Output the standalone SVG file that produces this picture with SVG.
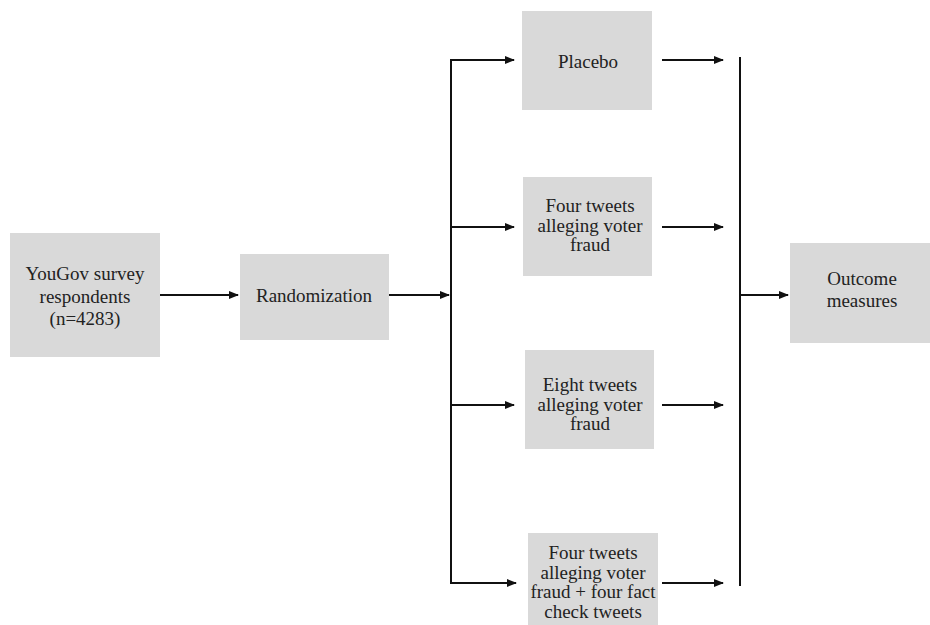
<svg xmlns="http://www.w3.org/2000/svg" width="930" height="625" viewBox="0 0 930 625">
<defs>
<marker id="ah" markerWidth="10" markerHeight="8" refX="9" refY="4" orient="auto" markerUnits="userSpaceOnUse">
<path d="M0,0 L10,4 L0,8 Z" fill="#111"/>
</marker>
<style>
.box{fill:#d9d9d9}
.t{font-family:"Liberation Serif","Times New Roman",serif;font-size:19px;fill:#222;text-anchor:middle}
.c{stroke:#111;stroke-width:2;fill:none}
.a{stroke:#111;stroke-width:2;fill:none;marker-end:url(#ah)}
</style>
</defs>
<rect width="930" height="625" fill="#fff"/>
<g id="yougov"><rect class="box" x="10" y="233" width="150" height="124"/>
<text class="t" x="85" y="280">YouGov survey</text><text class="t" x="85" y="303">respondents</text><text class="t" x="85" y="325">(n=4283)</text></g>
<g id="randomization"><rect class="box" x="240" y="254" width="149" height="86"/>
<text class="t" x="314" y="302">Randomization</text></g>
<g id="placebo"><rect class="box" x="522" y="11" width="130" height="99"/>
<text class="t" x="588" y="68">Placebo</text></g>
<g id="four"><rect class="box" x="523" y="177" width="129" height="99"/>
<text class="t" x="590" y="212">Four tweets</text><text class="t" x="590" y="232">alleging voter</text><text class="t" x="590" y="251">fraud</text></g>
<g id="eight"><rect class="box" x="525" y="350" width="129" height="99"/>
<text class="t" x="590" y="391">Eight tweets</text><text class="t" x="590" y="411">alleging voter</text><text class="t" x="590" y="430">fraud</text></g>
<g id="fourfact"><rect class="box" x="528" y="533" width="130" height="92"/>
<text class="t" x="593" y="559">Four tweets</text><text class="t" x="593" y="579">alleging voter</text><text class="t" x="593" y="598">fraud + four fact</text><text class="t" x="593" y="618">check tweets</text></g>
<g id="outcome"><rect class="box" x="790" y="243" width="140" height="100"/>
<text class="t" x="862" y="285">Outcome</text><text class="t" x="862" y="307">measures</text></g>
<g id="connectors">
<line class="a" x1="160" y1="295" x2="238" y2="295"/>
<line class="a" x1="389" y1="295" x2="449" y2="295"/>
<line class="c" x1="451" y1="59" x2="451" y2="584"/>
<line class="a" x1="450" y1="60" x2="514" y2="60"/>
<line class="a" x1="450" y1="227" x2="514" y2="227"/>
<line class="a" x1="450" y1="405" x2="514" y2="405"/>
<line class="a" x1="450" y1="583" x2="516" y2="583"/>
<line class="a" x1="662" y1="60" x2="723" y2="60"/>
<line class="a" x1="662" y1="227" x2="723" y2="227"/>
<line class="a" x1="662" y1="405" x2="723" y2="405"/>
<line class="a" x1="662" y1="583" x2="723" y2="583"/>
<line class="c" x1="740" y1="57" x2="740" y2="586"/>
<line class="a" x1="740" y1="295" x2="788" y2="295"/>
</g>
</svg>
